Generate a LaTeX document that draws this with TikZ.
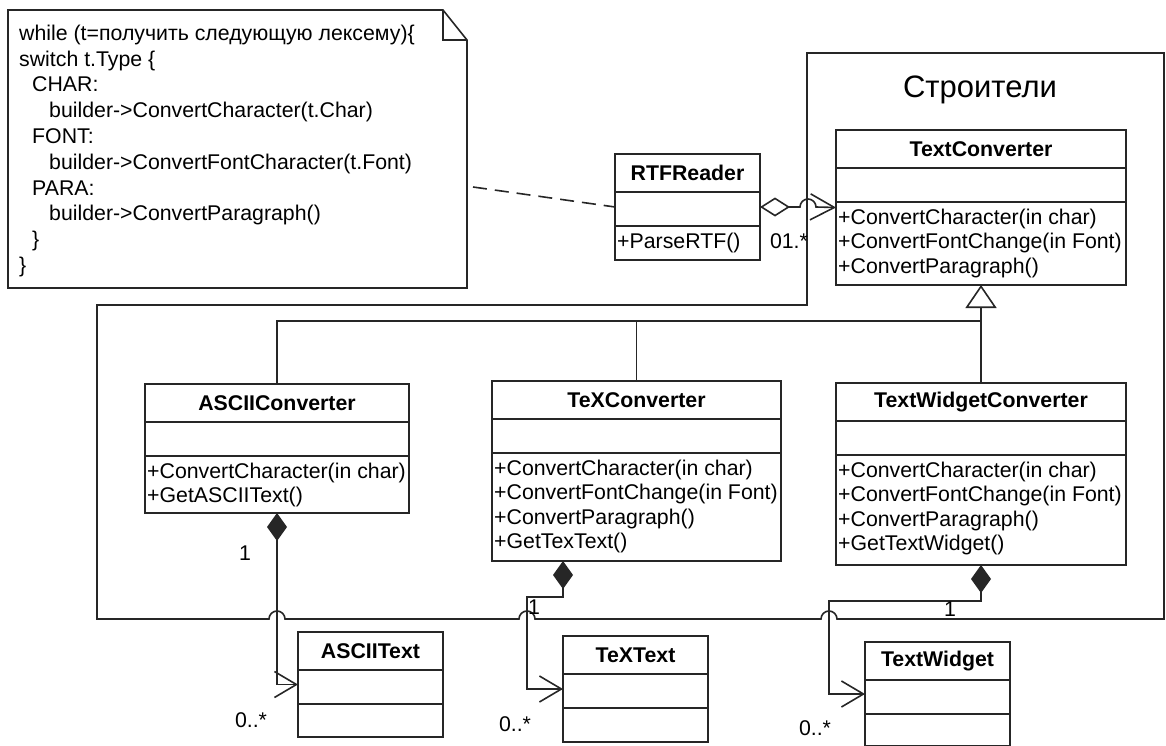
\documentclass[tikz,border=0pt]{standalone}
\usepackage{fontspec}
\setmainfont{Liberation Sans}
\usetikzlibrary{arrows.meta}

\tikzset{
    uml/.style={draw=black!85, line width=1.6pt},
    classbox/.style={uml, fill=white, anchor=north west, inner sep=0pt, outer sep=0pt},
    classname/.style={font=\fontsize{21.3}{24.5}\selectfont\bfseries, inner sep=0pt},
    ops/.style={font=\fontsize{21.3}{24.5}\selectfont, align=left, anchor=north west, inner sep=0pt},
    mult/.style={font=\fontsize{21.3}{24.5}\selectfont, inner sep=0pt},
    comp/.style={uml, {Diamond[length=28pt,width=20pt]}-{Straight Barb[length=22pt,width=26pt]}},
    aggr/.style={uml, {Diamond[open,fill=white,length=30pt,width=19pt]}-{Straight Barb[length=24pt,width=26pt]}},
}

% class box: name, top left, width, height, title, operations
\newcommand{\umlclass}[6]{%
    \node[classbox, minimum width=#3pt, minimum height=#4pt] (#1) at (#2) {};
    \draw[uml] ([yshift=-38pt]#1.north west) -- ([yshift=-38pt]#1.north east);
    \draw[uml] ([yshift=-72pt]#1.north west) -- ([yshift=-72pt]#1.north east);
    \node[classname] (#1-name) at ([yshift=-19pt]#1.north) {#5};
    \node[ops] (#1-ops) at ([xshift=2pt,yshift=-77pt]#1.north west) {\strut #6};
}

\begin{document}
\begin{tikzpicture}[x=1pt, y=-1pt]
    \useasboundingbox (0,0) rectangle (1166,746);

    % Package
    \draw[uml] (1164,53) -- (807,53) -- (807,305) -- (97,305) -- (97,619)
        -- (269,619) arc[start angle=180, end angle=0, radius=8pt]
        -- (519,619) arc[start angle=180, end angle=0, radius=8pt]
        -- (821,619) arc[start angle=180, end angle=0, radius=8pt]
        -- (1164,619) -- cycle;
    \node[font=\fontsize{31}{36}\selectfont] (pkgname) at (980,90) {Строители};

    % Note
    \node[minimum width=459pt, minimum height=278pt, anchor=north west, inner sep=0pt, outer sep=0pt] (note) at (8,10) {};
    \draw[uml, fill=white] (note.south west) -- (note.north west) -- ([xshift=-24pt]note.north east)
        -- ([yshift=-30pt]note.north east) -- (note.south east) -- cycle;
    \draw[uml] ([xshift=-24pt]note.north east) -- ([xshift=-24pt,yshift=-30pt]note.north east)
        -- ([yshift=-30pt]note.north east);
    \node[font=\fontsize{21.3}{25.8}\selectfont, align=left, anchor=north west, inner sep=0pt] (notetext) at (19,22) {\strut
        while (t=получить следующую лексему)\{\\
        switch t.Type \{\\
        \hspace*{13pt}CHAR:\\
        \hspace*{30pt}builder->ConvertCharacter(t.Char)\\
        \hspace*{13pt}FONT:\\
        \hspace*{30pt}builder->ConvertFontCharacter(t.Font)\\
        \hspace*{13pt}PARA:\\
        \hspace*{30pt}builder->ConvertParagraph()\\
        \hspace*{13pt}\}\\
        \}};

    % Classes
    \umlclass{rtf}{615,154}{145}{106}{RTFReader}{+ParseRTF()}
    \umlclass{tc}{836,130}{290}{155}{TextConverter}{+ConvertCharacter(in char)\\+ConvertFontChange(in Font)\\+ConvertParagraph()}
    \umlclass{ascii}{145,384}{264}{129}{ASCIIConverter}{+ConvertCharacter(in char)\\+GetASCIIText()}
    \umlclass{tex}{492,381}{289}{180}{TeXConverter}{+ConvertCharacter(in char)\\+ConvertFontChange(in Font)\\+ConvertParagraph()\\+GetTexText()}
    \umlclass{twc}{836,383}{290}{182}{TextWidgetConverter}{+ConvertCharacter(in char)\\+ConvertFontChange(in Font)\\+ConvertParagraph()\\+GetTextWidget()}
    \umlclass{asciitext}{298,632}{145}{105}{ASCIIText}{}
    \umlclass{textext}{563,636}{145}{106}{TeXText}{}
    \umlclass{tw}{865,642}{145}{104}{TextWidget}{}

    % Note link and aggregation
    \draw[uml, dash pattern=on 14pt off 8pt] ([xshift=6pt,yshift=-38pt]note.east) -- (rtf.west);
    \draw[aggr] (rtf.east) -- ++(40,0) arc[start angle=180, end angle=0, radius=8pt] -- (tc.west);
    \node[mult] (m0) at (789,241) {01.*};

    % Generalization
    \coordinate (treejoin) at (981,321);
    \draw[uml, -{Triangle[open,fill=white,length=23pt,width=31pt]}] (twc.north) -- (tc.south);
    \draw[uml] (ascii.north) |- (treejoin);
    \draw[uml] (tex.north) -- (tex.north |- treejoin);

    % Compositions
    \draw[comp] (ascii.south) |- (asciitext.west);
    \draw[comp] ([xshift=-73.5pt]tex.south) -- ++(0,36) -- ++(-36,0) |- (textext.west);
    \draw[comp] (twc.south) -- ++(0,36) -- ++(-152,0) |- (tw.west);

    % Multiplicities
    \node[mult] (m1) at (245,553) {1};
    \node[mult] (m2) at (251,720) {0..*};
    \node[mult] (m3) at (534,607) {1};
    \node[mult] (m4) at (515,724) {0..*};
    \node[mult] (m5) at (950,609) {1};
    \node[mult] (m6) at (815,728) {0..*};
\end{tikzpicture}
\end{document}
